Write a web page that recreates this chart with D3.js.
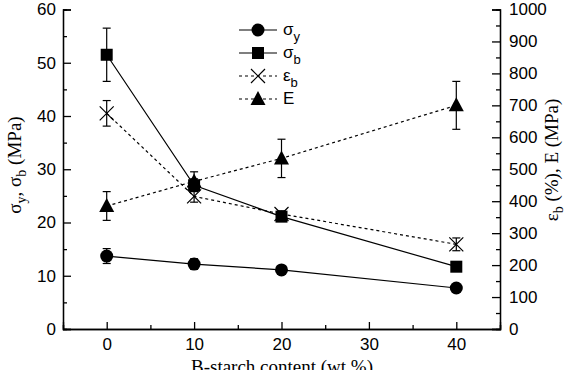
<!DOCTYPE html>
<html>
<head>
<meta charset="utf-8">
<script src="https://cdn.jsdelivr.net/npm/d3@7"></script>
<style>
  body { margin: 0; background: #fff; }
  svg { display: block; }
  .tick text { font-family: "Liberation Sans", Arial, sans-serif; font-size: 17px; fill: #000; }
  .title { font-family: "Liberation Serif", "Times New Roman", serif; font-size: 19px; fill: #000; }
  .leg { font-family: "Liberation Sans", Arial, sans-serif; font-size: 17px; fill: #000; }
</style>
</head>
<body>
<svg id="chart"></svg>
<script>
const width = 566;
const height = 370;

// Data (starch content in wt %)
const content = [0, 10, 20, 40];
const sigmaY = [13.7, 12.2, 11.1, 7.7];
const sigmaYErr = [1.4, 1.0, 0.6, 0.5];
const sigmaB = [51.5, 27.0, 21.1, 11.7];
const sigmaBErr = [5.0, 1.2, 0.8, 0.5];
const epsB = [675, 415, 360, 265];
const epsBErr = [40, 18, 10, 20];
const modE = [385, 462, 534, 700];
const modEErr = [45, 30, 60, 75];

const xTicks = [0, 10, 20, 30, 40];
const yLeftTicks = [0, 10, 20, 30, 40, 50, 60];
const yRightTicks = [0, 100, 200, 300, 400, 500, 600, 700, 800, 900, 1000];

const margin = { left: 63, right: 66, top: 9.5, bottom: 41 };

const svg = d3.select('#chart')
    .attr('width', width)
    .attr('height', height);

const x = d3.scaleLinear().domain([-5, 45]).range([margin.left, width - margin.right]);
const yL = d3.scaleLinear().domain([0, 60]).range([height - margin.bottom, margin.top]);
const yR = d3.scaleLinear().domain([0, 1000]).range([height - margin.bottom, margin.top]);

// Axes
const axisStyle = g => {
    g.select('.domain').attr('stroke', '#000').attr('stroke-width', 1.3);
    g.selectAll('.tick line').attr('stroke', '#000').attr('stroke-width', 1.3);
};

const bottomY = height - margin.bottom;

// minor ticks first
svg.append('g')
    .attr('transform', `translate(0,${bottomY})`)
    .call(d3.axisBottom(x).tickValues([-5, 5, 15, 25, 35, 45]).tickSize(-4).tickFormat(''))
    .call(axisStyle);
svg.append('g')
    .attr('transform', `translate(0,${bottomY})`)
    .call(d3.axisBottom(x).tickValues(xTicks).tickSize(-7).tickPadding(10).tickFormat(d3.format('d')))
    .call(axisStyle)
    .selectAll('.tick text').attr('dy', '0.71em').attr('y', 9);

svg.append('g')
    .attr('transform', `translate(${margin.left},0)`)
    .call(d3.axisLeft(yL).tickValues(d3.range(5, 60, 10)).tickSize(-4).tickFormat(''))
    .call(axisStyle);
svg.append('g')
    .attr('transform', `translate(${margin.left},0)`)
    .call(d3.axisLeft(yL).tickValues(yLeftTicks).tickSize(-8).tickPadding(0).tickFormat(d3.format('d')))
    .call(axisStyle)
    .selectAll('.tick text').attr('x', -7);

const rightX = width - margin.right;
svg.append('g')
    .attr('transform', `translate(${rightX},0)`)
    .call(d3.axisRight(yR).tickValues(d3.range(50, 1000, 100)).tickSize(-4).tickFormat(''))
    .call(axisStyle);
svg.append('g')
    .attr('transform', `translate(${rightX},0)`)
    .call(d3.axisRight(yR).tickValues(yRightTicks).tickSize(-8).tickFormat(d3.format('d')))
    .call(axisStyle)
    .selectAll('.tick text').attr('x', 9);

// Axis titles
svg.append('text')
    .attr('class', 'title')
    .attr('x', 282)
    .attr('y', 373)
    .attr('text-anchor', 'middle')
    .text('B-starch content (wt %)');

const leftTitle = svg.append('text')
    .attr('class', 'title')
    .attr('transform', 'translate(21,165) rotate(-90)')
    .attr('text-anchor', 'middle');
leftTitle.append('tspan').text('σ');
leftTitle.append('tspan').attr('dy', 5).attr('font-size', 14).text('y');
leftTitle.append('tspan').attr('dy', -5).text(', σ');
leftTitle.append('tspan').attr('dy', 5).attr('font-size', 14).text('b');
leftTitle.append('tspan').attr('dy', -5).text(' (MPa)');

const rightTitle = svg.append('text')
    .attr('class', 'title')
    .attr('transform', 'translate(558,160) rotate(-90)')
    .attr('text-anchor', 'middle');
rightTitle.append('tspan').text('ε');
rightTitle.append('tspan').attr('dy', 5).attr('font-size', 14).text('b');
rightTitle.append('tspan').attr('dy', -5).text(' (%), E (MPa)');

// Series
const series = [
    { name: 'σ', sub: 'y', vals: sigmaY, err: sigmaYErr, y: yL, dash: null, sym: 'circle' },
    { name: 'σ', sub: 'b', vals: sigmaB, err: sigmaBErr, y: yL, dash: null, sym: 'square' },
    { name: 'ε', sub: 'b', vals: epsB, err: epsBErr, y: yR, dash: '3,3', sym: 'cross' },
    { name: 'E', sub: '', vals: modE, err: modEErr, y: yR, dash: '3,3', sym: 'triangle' }
];

function drawMarker(g, sym, cx, cy) {
    if (sym === 'circle') {
        g.append('circle').attr('cx', cx).attr('cy', cy).attr('r', 6.5).attr('fill', '#000');
    } else if (sym === 'square') {
        g.append('rect').attr('x', cx - 6).attr('y', cy - 6).attr('width', 12).attr('height', 12).attr('fill', '#000');
    } else if (sym === 'triangle') {
        g.append('path')
            .attr('d', `M${cx},${cy - 8}L${cx + 7.5},${cy + 6}L${cx - 7.5},${cy + 6}Z`)
            .attr('fill', '#000');
    } else {
        g.append('path')
            .attr('d', `M${cx - 7},${cy - 7}L${cx + 7},${cy + 7}M${cx - 7},${cy + 7}L${cx + 7},${cy - 7}`)
            .attr('stroke', '#000').attr('stroke-width', 1.2).attr('fill', 'none');
    }
}

series.forEach(s => {
    const g = svg.append('g');
    const line = d3.line().x((d, i) => x(content[i])).y(d => s.y(d));
    g.append('path')
        .datum(s.vals)
        .attr('d', line)
        .attr('fill', 'none')
        .attr('stroke', '#000')
        .attr('stroke-width', 1.2)
        .attr('stroke-dasharray', s.dash);

    // error bars
    s.vals.forEach((v, i) => {
        const cx = x(content[i]);
        const y1 = s.y(v + s.err[i]);
        const y2 = s.y(v - s.err[i]);
        g.append('line').attr('x1', cx).attr('x2', cx).attr('y1', y1).attr('y2', y2)
            .attr('stroke', '#000').attr('stroke-width', 1.2);
        [y1, y2].forEach(yy => {
            g.append('line').attr('x1', cx - 4).attr('x2', cx + 4).attr('y1', yy).attr('y2', yy)
                .attr('stroke', '#000').attr('stroke-width', 1.2);
        });
    });

    s.vals.forEach((v, i) => drawMarker(g, s.sym, x(content[i]), s.y(v)));
});

// Legend
const legendY = [30, 53, 76, 99];
series.forEach((s, i) => {
    const g = svg.append('g');
    const ly = legendY[i];
    g.append('line').attr('x1', 239).attr('x2', 277).attr('y1', ly).attr('y2', ly)
        .attr('stroke', '#000').attr('stroke-width', 1.2).attr('stroke-dasharray', s.dash);
    drawMarker(g, s.sym, 258, ly);
    const t = g.append('text').attr('class', 'leg').attr('x', 283).attr('y', ly + 5);
    t.append('tspan').text(s.name);
    if (s.sub) t.append('tspan').attr('dy', 6).attr('font-size', 13).text(s.sub);
});
</script>
</body>
</html>
